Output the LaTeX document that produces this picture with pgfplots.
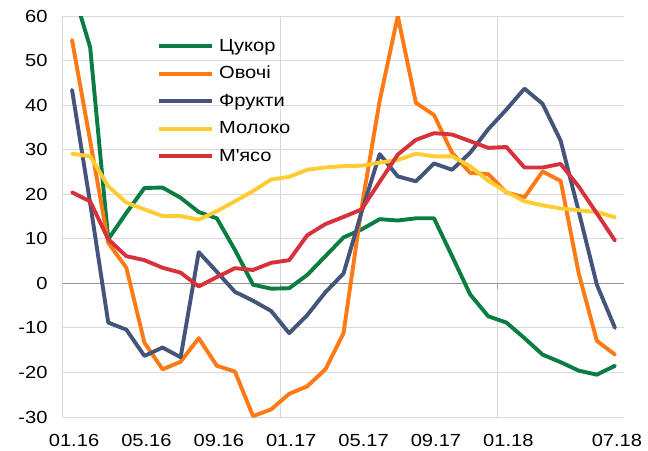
\documentclass[border=0pt]{standalone}
\usepackage{fontspec}
\setmainfont{Liberation Sans}[FakeStretch=1.15]
\usepackage{pgfplots}
\pgfplotsset{compat=1.18}
\definecolor{cgreen}{RGB}{10,125,66}
\definecolor{corange}{RGB}{255,122,20}
\definecolor{cblue}{RGB}{68,84,122}
\definecolor{cyellow}{RGB}{255,204,51}
\definecolor{cred}{RGB}{214,50,60}
\definecolor{gridc}{RGB}{217,217,217}
\definecolor{zeroc}{RGB}{150,150,150}
\begin{document}
\begin{tikzpicture}
\path[use as bounding box] (-63pt,-33pt) rectangle (585pt,417pt);
\begin{axis}[
  at={(0,0)}, anchor=south west,
  scale only axis, width=561pt, height=401pt,
  xmin=-0.5, xmax=30.5, ymin=-30, ymax=60,
  xtick={0,4,8,12,16,20,24,30},
  xticklabels={01.16,05.16,09.16,01.17,05.17,09.17,01.18,07.18},
  ytick={-30,-20,...,60},
  major tick length=0pt,
  axis line style={draw=none},
  ymajorgrids,
  grid style={draw=gridc, line width=1pt},
  extra x ticks={-0.5,11.5,23.5},
  extra x tick labels={},
  extra x tick style={grid=major, major tick length=0pt},
  /pgf/number format/assume math mode=true,
  tick label style={font=\fontsize{17.5}{20}\selectfont},
  yticklabel style={xshift=-12pt},
  xticklabel style={yshift=-14pt, xshift=2pt},
  clip=true,
  every axis plot/.append style={line width=3.9pt, line join=round, line cap=round},
  legend style={at={(rel axis cs:0.1676,0.9426)}, anchor=north west, draw=none, fill=none,
    inner sep=0pt, row sep=11.5pt, font=\fontsize{17.5}{20}\selectfont,
    nodes={inner sep=0pt, text height=12pt, text depth=4pt, anchor=base west},
    /tikz/every odd column/.append style={column sep=5pt}},
  legend cell align=left,
  legend image code/.code={\draw[#1, line cap=butt] (0pt,5pt) -- (53pt,5pt);},
]
\draw[zeroc, line width=1.3pt] (axis cs:-0.5,0) -- (axis cs:30.5,0);
\draw[zeroc, line width=1pt] (axis cs:-0.5,0) -- ++(0pt,-6pt);
\draw[zeroc, line width=1pt] (axis cs:11.5,0) -- ++(0pt,-6pt);
\draw[zeroc, line width=1pt] (axis cs:23.5,0) -- ++(0pt,-6pt);
\addplot[cgreen] coordinates {(0,66.5) (1,53) (2,9.9) (3,15.8) (4,21.4) (5,21.5) (6,19.2) (7,16.0) (8,14.6) (9,7.5) (10,-0.3) (11,-1.2) (12,-1.1) (13,1.9) (14,6.1) (15,10.3) (16,12.1) (17,14.4) (18,14.1) (19,14.6) (20,14.6) (21,6.1) (22,-2.5) (23,-7.4) (24,-8.8) (25,-12.3) (26,-16.0) (27,-17.7) (28,-19.6) (29,-20.5) (30,-18.5)};
\addlegendentry{Цукор}
\addplot[corange] coordinates {(0,54.6) (1,32) (2,9.1) (3,3.5) (4,-13.3) (5,-19.3) (6,-17.6) (7,-12.3) (8,-18.5) (9,-19.8) (10,-29.8) (11,-28.3) (12,-24.8) (13,-23.1) (14,-19.3) (15,-11.2) (16,17) (17,41) (18,60) (19,40.5) (20,37.8) (21,29.3) (22,24.8) (23,24.5) (24,20.4) (25,19.3) (26,25.1) (27,23) (28,2.2) (29,-12.9) (30,-16.0)};
\addlegendentry{Овочі}
\addplot[cblue] coordinates {(0,43.4) (1,18) (2,-8.8) (3,-10.4) (4,-16.3) (5,-14.4) (6,-16.6) (7,7.0) (8,2.6) (9,-1.9) (10,-3.9) (11,-6.2) (12,-11.2) (13,-7.1) (14,-2.0) (15,2.2) (16,16) (17,29) (18,24.0) (19,22.9) (20,26.9) (21,25.5) (22,29.3) (23,34.6) (24,39.0) (25,43.7) (26,40.3) (27,32.0) (28,16.1) (29,-0.3) (30,-10.0)};
\addlegendentry{Фрукти}
\addplot[cyellow] coordinates {(0,29.1) (1,28.5) (2,21.8) (3,18.1) (4,16.6) (5,15.1) (6,15.1) (7,14.3) (8,16.2) (9,18.4) (10,20.7) (11,23.3) (12,23.9) (13,25.5) (14,26.0) (15,26.3) (16,26.4) (17,27.1) (18,27.7) (19,29.1) (20,28.5) (21,28.5) (22,26.3) (23,23.0) (24,20.5) (25,18.4) (26,17.5) (27,16.8) (28,16.4) (29,16.0) (30,14.8)};
\addlegendentry{Молоко}
\addplot[cred] coordinates {(0,20.4) (1,18.4) (2,9.9) (3,6.1) (4,5.2) (5,3.5) (6,2.4) (7,-0.7) (8,1.4) (9,3.4) (10,3.0) (11,4.6) (12,5.2) (13,10.8) (14,13.3) (15,14.9) (16,16.6) (17,22.8) (18,28.9) (19,32.2) (20,33.7) (21,33.4) (22,31.9) (23,30.4) (24,30.6) (25,26.0) (26,26.0) (27,26.8) (28,21.7) (29,15.7) (30,9.6)};
\addlegendentry{М\textquotesingle ясо}
\end{axis}
\end{tikzpicture}
\end{document}
